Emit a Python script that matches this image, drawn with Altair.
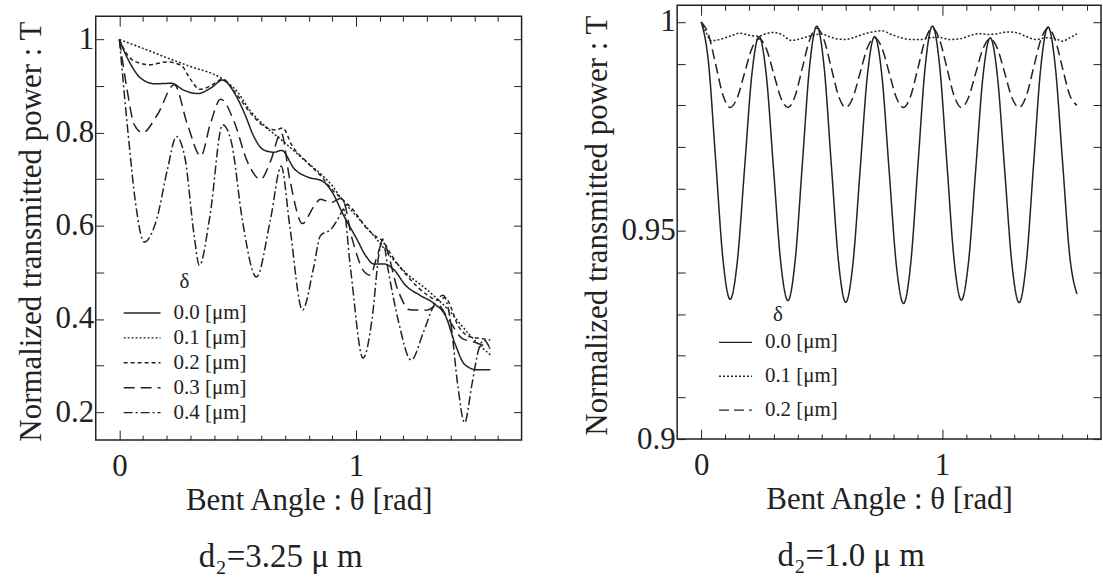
import altair as alt
import pandas as pd

FONT = "Liberation Serif"
INK = "#222222"

# ---------------- left panel : d2 = 3.25 um ----------------
L_DELTAS = ["0.0 [μm]", "0.1 [μm]", "0.2 [μm]", "0.3 [μm]", "0.4 [μm]"]

L00_X = [0, 0.02, 0.05, 0.09, 0.15, 0.22, 0.27, 0.33, 0.39, 0.435, 0.49, 0.53, 0.57, 0.61, 0.655, 0.685, 0.74,
         0.80, 0.855, 0.90, 0.945, 1.0, 1.045, 1.075, 1.12, 1.16, 1.21, 1.27, 1.33, 1.38, 1.42, 1.46, 1.51, 1.568]
L00_Y = [1.0, 0.975, 0.945, 0.917, 0.905, 0.906, 0.892, 0.884, 0.897, 0.913, 0.882, 0.84, 0.79, 0.763, 0.758, 0.762,
         0.722, 0.704, 0.697, 0.672, 0.625, 0.575, 0.533, 0.518, 0.518, 0.506, 0.472, 0.451, 0.433, 0.405, 0.345,
         0.302, 0.291, 0.291]

L01_X = [0, 0.1, 0.2, 0.3, 0.436, 0.5, 0.55, 0.62, 0.70, 0.78, 0.85, 0.90, 0.94, 1.0, 1.08, 1.15, 1.22, 1.30, 1.35,
         1.39, 1.44, 1.48, 1.52, 1.568]
L01_Y = [1.0, 0.981, 0.961, 0.942, 0.915, 0.887, 0.849, 0.812, 0.778, 0.742, 0.712, 0.686, 0.657, 0.622, 0.576,
         0.532, 0.495, 0.463, 0.44, 0.42, 0.39, 0.366, 0.345, 0.323]

L02_X = [0, 0.03, 0.07, 0.13, 0.2, 0.26, 0.30, 0.34, 0.39, 0.436, 0.49, 0.55, 0.61, 0.66, 0.69, 0.73, 0.79, 0.85,
         0.895, 0.94, 0.985, 1.045, 1.09, 1.113, 1.15, 1.226, 1.30, 1.35, 1.376, 1.436, 1.48, 1.53, 1.568]
L02_Y = [1.0, 0.97, 0.952, 0.946, 0.952, 0.945, 0.915, 0.893, 0.902, 0.915, 0.886, 0.845, 0.814, 0.806, 0.81, 0.772,
         0.738, 0.708, 0.68, 0.658, 0.636, 0.595, 0.575, 0.568, 0.537, 0.487, 0.452, 0.44, 0.446, 0.382, 0.362,
         0.358, 0.355]

L03_X = [0, 0.03, 0.063, 0.098, 0.161, 0.232, 0.288, 0.344, 0.385, 0.428, 0.484, 0.54, 0.597, 0.639, 0.684, 0.72,
         0.774, 0.82, 0.85, 0.895, 0.94, 0.985, 1.03, 1.06, 1.09, 1.113, 1.18, 1.226, 1.30, 1.346, 1.39, 1.45,
         1.496, 1.568]
L03_Y = [1.0, 0.90, 0.817, 0.80, 0.839, 0.903, 0.817, 0.75, 0.82, 0.872, 0.825, 0.739, 0.70, 0.739, 0.80, 0.70,
         0.605, 0.64, 0.657, 0.65, 0.66, 0.57, 0.505, 0.494, 0.536, 0.565, 0.458, 0.42, 0.419, 0.43, 0.40, 0.358,
         0.351, 0.337]

L04_X = [0, 0.038, 0.068, 0.105, 0.158, 0.203, 0.241, 0.278, 0.316, 0.338, 0.383, 0.436, 0.474, 0.519, 0.579,
         0.639, 0.684, 0.72, 0.774, 0.82, 0.85, 0.895, 0.932, 0.947, 0.977, 1.03, 1.068, 1.098, 1.113, 1.135,
         1.18, 1.233, 1.286, 1.33, 1.368, 1.40, 1.43, 1.459, 1.49, 1.52, 1.541, 1.568]
L04_Y = [1.0, 0.792, 0.65, 0.565, 0.615, 0.721, 0.792, 0.743, 0.579, 0.515, 0.622, 0.817, 0.778, 0.615, 0.49,
         0.615, 0.728, 0.60, 0.419, 0.508, 0.579, 0.593, 0.622, 0.636, 0.508, 0.316, 0.40, 0.543, 0.572, 0.508,
         0.394, 0.312, 0.373, 0.43, 0.451, 0.394, 0.259, 0.177, 0.259, 0.337, 0.355, 0.334]

L_YLABELS = [0.2, 0.4, 0.6, 0.8, 1.0]
L_YTICKS = [0.2, 0.3, 0.4, 0.5, 0.6, 0.7, 0.8, 0.9, 1.0]

# ---------------- right panel : d2 = 1.0 um ----------------
R_DELTAS = ["0.0 [μm]", "0.1 [μm]", "0.2 [μm]"]

R_X = [0, 0.03, 0.06, 0.09, 0.12, 0.15, 0.18, 0.21, 0.24, 0.27, 0.30, 0.33, 0.36, 0.39, 0.42, 0.45, 0.48, 0.51,
       0.54, 0.57, 0.60, 0.63, 0.66, 0.69, 0.72, 0.75, 0.78, 0.81, 0.84, 0.87, 0.90, 0.93, 0.96, 0.99, 1.02, 1.05,
       1.08, 1.11, 1.14, 1.17, 1.20, 1.23, 1.26, 1.29, 1.32, 1.35, 1.38, 1.41, 1.44, 1.47, 1.50, 1.53, 1.56]
R00_Y = [1.0, 0.9903, 0.9668, 0.9432, 0.9335, 0.9427, 0.9650, 0.9873, 0.9965, 0.9873, 0.9649, 0.9424, 0.9332,
         0.9428, 0.9661, 0.9894, 0.9990, 0.9893, 0.9659, 0.9425, 0.9328, 0.9421, 0.9647, 0.9872, 0.9965, 0.9872,
         0.9645, 0.9418, 0.9325, 0.9422, 0.9658, 0.9893, 0.9990, 0.9894, 0.9662, 0.9429, 0.9333, 0.9425, 0.9648,
         0.9870, 0.9962, 0.9869, 0.9645, 0.9420, 0.9327, 0.9424, 0.9658, 0.9891, 0.9988, 0.9894, 0.9667, 0.9440,
         0.9348]
R02_Y = [1.0, 0.9970, 0.9898, 0.9825, 0.9795, 0.9819, 0.9878, 0.9936, 0.9960, 0.9936, 0.9878, 0.9819, 0.9795,
         0.9823, 0.9890, 0.9957, 0.9985, 0.9957, 0.9890, 0.9823, 0.9795, 0.9819, 0.9879, 0.9938, 0.9962, 0.9938,
         0.9879, 0.9819, 0.9795, 0.9823, 0.9890, 0.9957, 0.9985, 0.9957, 0.9890, 0.9823, 0.9795, 0.9819, 0.9878,
         0.9936, 0.9960, 0.9936, 0.9878, 0.9819, 0.9795, 0.9823, 0.9890, 0.9957, 0.9985, 0.9957, 0.9890, 0.9825,
         0.9800]
R01_X = [0, 0.02, 0.04, 0.07, 0.10, 0.13, 0.16, 0.20, 0.24, 0.27, 0.30, 0.34, 0.37, 0.40, 0.43, 0.47, 0.50, 0.53,
         0.56, 0.60, 0.63, 0.67, 0.71, 0.75, 0.79, 0.83, 0.87, 0.91, 0.95, 0.99, 1.03, 1.07, 1.11, 1.15, 1.19, 1.23,
         1.27, 1.31, 1.35, 1.39, 1.43, 1.47, 1.50, 1.53, 1.56]
R01_Y = [1.0, 0.9975, 0.9955, 0.9957, 0.9962, 0.9968, 0.9973, 0.9968, 0.9966, 0.9972, 0.9975, 0.9968, 0.9956,
         0.9958, 0.9963, 0.9969, 0.9971, 0.9965, 0.9960, 0.9958, 0.9962, 0.9970, 0.9976, 0.9979, 0.9970, 0.9962,
         0.9958, 0.9958, 0.9962, 0.9963, 0.9958, 0.9959, 0.9966, 0.9972, 0.9970, 0.9972, 0.9976, 0.9974, 0.9965,
         0.9958, 0.9962, 0.9960, 0.9954, 0.9962, 0.9972]

R_YLABELS = [0.9, 0.95, 1.0]
R_YTICKS = [0.90, 0.91, 0.92, 0.93, 0.94, 0.95, 0.96, 0.97, 0.98, 0.99, 1.0]

X_MAJOR = [0, 1]
X_MINOR = [0.1, 0.2, 0.3, 0.4, 0.5, 0.6, 0.7, 0.8, 0.9, 1.1, 1.2, 1.3, 1.4, 1.5, 1.6]


def long_df(series):
    rows = []
    for label, xs, ys in series:
        assert len(xs) == len(ys), label
        for x, y in zip(xs, ys):
            rows.append({"x": x, "y": y, "delta": label})
    return pd.DataFrame(rows)


left_df = long_df([(L_DELTAS[0], L00_X, L00_Y), (L_DELTAS[1], L01_X, L01_Y), (L_DELTAS[2], L02_X, L02_Y),
                   (L_DELTAS[3], L03_X, L03_Y), (L_DELTAS[4], L04_X, L04_Y)])
right_df = long_df([(R_DELTAS[0], R_X, R00_Y), (R_DELTAS[1], R01_X, R01_Y), (R_DELTAS[2], R_X, R02_Y)])


def tick_axis(orient, offset, values, size):
    return alt.Axis(orient=orient, offset=offset, values=values, labels=False, domain=False, grid=False,
                    title=None, ticks=True, tickSize=size, tickColor=INK, tickWidth=1)


def panel(df, deltas, dashes, xdom, frame_ydom, W, HF, gap, ylabels, yticks, legend_kw, caption, cap_dx):
    # the plot area is HF tall frame plus `gap` px of empty room above it
    H = HF + gap
    ytop = frame_ydom[1] + gap * (frame_ydom[1] - frame_ydom[0]) / HF
    xs = alt.Scale(domain=xdom, nice=False, zero=False)
    ys = alt.Scale(domain=[frame_ydom[0], ytop], nice=False, zero=False)
    lines = alt.Chart(df).mark_line(interpolate="monotone", strokeWidth=1.5, color=INK).encode(
        x=alt.X("x:Q", scale=xs, axis=alt.Axis(orient="bottom", values=X_MAJOR, format="~g", ticks=False,
                                                tickSize=0, domain=False, grid=False, labelPadding=12,
                                                title="Bent Angle : θ [rad]", titlePadding=4)),
        y=alt.Y("y:Q", scale=ys, axis=alt.Axis(orient="left", values=ylabels, format="~g", ticks=False,
                                                tickSize=0, domain=False, grid=False, labelPadding=2,
                                                title="Normalized transmitted power : T", titlePadding=8,
                                                titleY=gap + HF / 2 + 3)),
        strokeDash=alt.StrokeDash("delta:N", scale=alt.Scale(domain=deltas, range=dashes),
                                  legend=alt.Legend(**legend_kw)),
    )

    def ghost(xaxis, yaxis):
        return alt.Chart(df).mark_point(opacity=0, size=1).encode(
            x=alt.X("x:Q", scale=xs, axis=xaxis), y=alt.Y("y:Q", scale=ys, axis=yaxis))

    g1 = ghost(tick_axis("top", -H, X_MAJOR, 10), tick_axis("right", -W, yticks, 8))
    g2 = ghost(tick_axis("top", -H, X_MINOR, 5), tick_axis("left", -W, yticks, 8))
    g3 = ghost(tick_axis("bottom", -HF, X_MAJOR, 10), None)
    g4 = ghost(tick_axis("bottom", -HF, X_MINOR, 5), None)
    frame_df = pd.DataFrame({"x": [xdom[0]], "x2": [xdom[1]], "y": [frame_ydom[0]], "y2": [frame_ydom[1]]})
    frame = alt.Chart(frame_df).mark_rect(fillOpacity=0, stroke=INK, strokeWidth=1.5).encode(
        x=alt.X("x:Q", scale=xs, axis=None), x2="x2:Q",
        y=alt.Y("y:Q", scale=ys, axis=None), y2="y2:Q")
    return alt.layer(frame, lines, g1, g2, g3, g4).resolve_axis(x="independent", y="independent").properties(
        width=W, height=H,
        title=alt.TitleParams(text=caption, orient="bottom", anchor="middle", font=FONT, fontSize=33,
                              fontWeight="normal", color=INK, dx=cap_dx, offset=25))


def legend_kw(x, y, sym, clip_h, title_pad):
    return dict(title="δ", orient="none", legendX=x, legendY=y, titleAnchor="middle", titleFont=FONT,
                titleFontSize=21, titleFontWeight="normal", titleColor=INK, titlePadding=title_pad,
                labelFont=FONT, labelFontSize=21, labelColor=INK, labelOffset=12, symbolType="stroke",
                symbolSize=sym, symbolStrokeWidth=1.4, symbolStrokeColor=INK, clipHeight=clip_h,
                rowPadding=0, padding=0)


LW, LH, LGAP = 427, 425, 11
RW, RH = 425, 435

left = panel(left_df, L_DELTAS, [[1, 0], [2, 2], [4, 3], [11, 6], [9, 3, 2, 3]],
             [-0.1, 1.7], [0.14, 1.05], LW, LH, LGAP, L_YLABELS, L_YTICKS,
             legend_kw(27, 266, 1369, 25, 9), "d₂=3.25 μ m", -28)
right = panel(right_df, R_DELTAS, [[1, 0], [2, 2], [10, 5]],
              [-0.1, 1.66], [0.9, 1.004], RW, RH, 0, R_YLABELS, R_YTICKS,
              legend_kw(41, 300, 1089, 34, 0), "d₂=1.0 μ m", -38)

chart = alt.hconcat(left, right, spacing=57).resolve_scale(
    strokeDash="independent"
).properties(
    padding={"left": 14, "top": 2.5, "right": 0, "bottom": 0}, background="white"
).configure_view(
    stroke="transparent"
).configure_axis(
    labelFont=FONT, labelFontSize=31, labelColor=INK, titleFont=FONT, titleFontSize=31,
    titleFontWeight="normal", titleColor=INK
)

chart.save("out.html", embed_options={"renderer": "svg", "actions": False})
